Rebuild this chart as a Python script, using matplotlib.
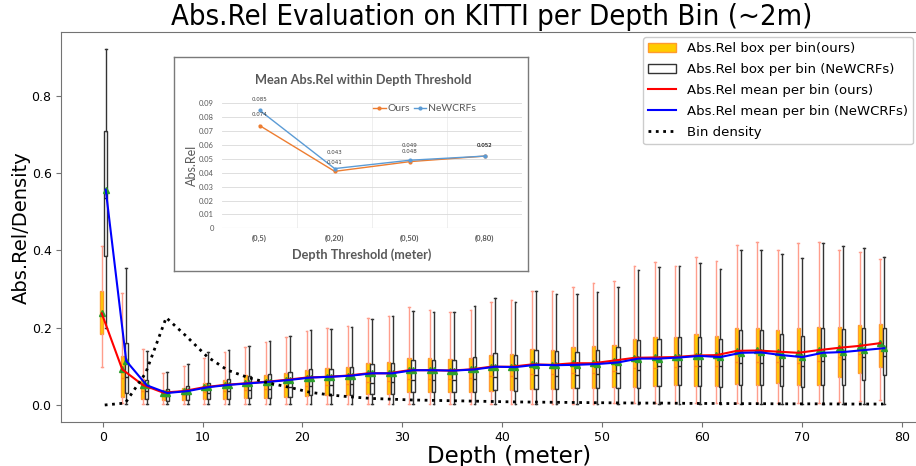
import numpy as np
import matplotlib.pyplot as plt
from matplotlib.patches import Patch
from matplotlib.lines import Line2D
from matplotlib import font_manager

# depth bins: 39 bins of ~2m over [0, 80]
bin_start = np.linspace(0, 80, 40)[:-1]

# per-bin Abs.Rel box statistics (ours)
ours_q1 = [0.183, 0.020, 0.015, 0.013, 0.013, 0.015, 0.016, 0.017, 0.019, 0.021,
           0.024, 0.026, 0.026, 0.028, 0.029, 0.033, 0.034, 0.034, 0.034, 0.037,
           0.039, 0.041, 0.042, 0.043, 0.043, 0.047, 0.047, 0.050, 0.053, 0.050,
           0.050, 0.054, 0.053, 0.056, 0.052, 0.052, 0.073, 0.084, 0.097]
ours_med = [0.235, 0.070, 0.035, 0.024, 0.027, 0.033, 0.036, 0.040, 0.042, 0.047,
            0.050, 0.053, 0.055, 0.060, 0.061, 0.068, 0.068, 0.068, 0.070, 0.075,
            0.075, 0.080, 0.080, 0.082, 0.083, 0.088, 0.095, 0.096, 0.098, 0.100,
            0.100, 0.112, 0.112, 0.110, 0.108, 0.115, 0.125, 0.133, 0.140]
ours_q3 = [0.295, 0.128, 0.066, 0.040, 0.045, 0.056, 0.065, 0.077, 0.078, 0.084,
           0.090, 0.095, 0.099, 0.108, 0.110, 0.121, 0.121, 0.119, 0.121, 0.129,
           0.132, 0.144, 0.142, 0.149, 0.153, 0.155, 0.172, 0.177, 0.177, 0.183,
           0.179, 0.198, 0.200, 0.194, 0.198, 0.203, 0.203, 0.207, 0.209]
ours_lo = [0.098, 0.004, 0.002, 0.002, 0.002, 0.002, 0.002, 0.002, 0.002, 0.002,
           0.003, 0.003, 0.003, 0.003, 0.003, 0.003, 0.003, 0.003, 0.003, 0.003,
           0.003, 0.003, 0.003, 0.003, 0.003, 0.004, 0.004, 0.004, 0.004, 0.004,
           0.004, 0.004, 0.004, 0.004, 0.004, 0.004, 0.008, 0.010, 0.012]
ours_hi = [0.410, 0.290, 0.144, 0.082, 0.100, 0.121, 0.136, 0.149, 0.163, 0.175,
           0.191, 0.198, 0.204, 0.224, 0.230, 0.253, 0.247, 0.240, 0.245, 0.266,
           0.272, 0.296, 0.295, 0.305, 0.315, 0.321, 0.360, 0.369, 0.360, 0.382,
           0.373, 0.415, 0.422, 0.401, 0.418, 0.421, 0.401, 0.395, 0.377]
ours_mean = [0.237, 0.092, 0.052, 0.032, 0.036, 0.046, 0.052, 0.056, 0.060, 0.065,
             0.071, 0.073, 0.076, 0.082, 0.082, 0.090, 0.090, 0.089, 0.092, 0.099,
             0.099, 0.105, 0.104, 0.108, 0.108, 0.115, 0.122, 0.123, 0.124, 0.128,
             0.129, 0.140, 0.141, 0.138, 0.135, 0.142, 0.148, 0.153, 0.160]

# per-bin Abs.Rel box statistics (NeWCRFs)
newc_q1 = [0.386, 0.030, 0.016, 0.011, 0.013, 0.015, 0.015, 0.017, 0.019, 0.021,
           0.025, 0.026, 0.027, 0.028, 0.029, 0.033, 0.034, 0.034, 0.034, 0.039,
           0.037, 0.041, 0.041, 0.043, 0.043, 0.043, 0.045, 0.049, 0.052, 0.050,
           0.047, 0.053, 0.053, 0.048, 0.047, 0.052, 0.053, 0.065, 0.078]
newc_med = [0.535, 0.073, 0.036, 0.022, 0.028, 0.032, 0.035, 0.038, 0.042, 0.046,
            0.050, 0.052, 0.054, 0.058, 0.060, 0.064, 0.064, 0.065, 0.068, 0.072,
            0.070, 0.077, 0.076, 0.078, 0.079, 0.083, 0.090, 0.102, 0.100, 0.100,
            0.100, 0.109, 0.109, 0.100, 0.100, 0.114, 0.118, 0.123, 0.127]
newc_q3 = [0.710, 0.160, 0.065, 0.041, 0.050, 0.058, 0.066, 0.075, 0.080, 0.085,
           0.092, 0.093, 0.097, 0.107, 0.109, 0.116, 0.116, 0.116, 0.125, 0.134,
           0.129, 0.142, 0.140, 0.138, 0.142, 0.149, 0.168, 0.172, 0.175, 0.177,
           0.170, 0.194, 0.194, 0.184, 0.179, 0.198, 0.196, 0.198, 0.198]
newc_lo = [0.200, 0.003, 0.002, 0.002, 0.002, 0.002, 0.002, 0.002, 0.002, 0.002,
           0.002, 0.002, 0.002, 0.002, 0.002, 0.002, 0.002, 0.002, 0.002, 0.002,
           0.002, 0.002, 0.002, 0.002, 0.002, 0.002, 0.002, 0.002, 0.002, 0.002,
           0.002, 0.002, 0.002, 0.002, 0.002, 0.002, 0.002, 0.002, 0.002]
newc_hi = [0.920, 0.355, 0.140, 0.085, 0.105, 0.138, 0.142, 0.153, 0.166, 0.178,
           0.194, 0.196, 0.202, 0.222, 0.229, 0.243, 0.240, 0.240, 0.256, 0.276,
           0.266, 0.294, 0.286, 0.286, 0.291, 0.306, 0.349, 0.358, 0.360, 0.368,
           0.351, 0.401, 0.401, 0.390, 0.381, 0.418, 0.410, 0.405, 0.382]
newc_mean = [0.557, 0.114, 0.051, 0.031, 0.036, 0.046, 0.052, 0.056, 0.060, 0.065,
             0.071, 0.073, 0.076, 0.082, 0.082, 0.090, 0.090, 0.089, 0.092, 0.099,
             0.098, 0.104, 0.103, 0.104, 0.106, 0.110, 0.120, 0.120, 0.123, 0.127,
             0.124, 0.135, 0.136, 0.129, 0.124, 0.135, 0.137, 0.142, 0.147]

# fraction of pixels in each bin
density = [0.000, 0.005, 0.083, 0.226, 0.177, 0.125, 0.090, 0.071, 0.057, 0.046,
           0.033, 0.026, 0.021, 0.017, 0.015, 0.013, 0.012, 0.011, 0.010, 0.009,
           0.008, 0.0075, 0.007, 0.0065, 0.006, 0.0055, 0.005, 0.005, 0.0045, 0.004,
           0.004, 0.0035, 0.0035, 0.003, 0.003, 0.003, 0.0025, 0.0025, 0.0025]

# mean Abs.Rel within depth threshold (inset)
thresholds = ["(0,5)", "(0,20)", "(0,50)", "(0,80)"]
thr_ours = [0.074, 0.041, 0.048, 0.052]
thr_newc = [0.085, 0.043, 0.049, 0.052]


def box_stats(q1, med, q3, lo, hi, mean):
    return [dict(q1=a, med=b, q3=c, whislo=d, whishi=e, mean=f, fliers=[])
            for a, b, c, d, e, f in zip(q1, med, q3, lo, hi, mean)]


W, H = 916, 466
fig = plt.figure(figsize=(W / 100, H / 100), dpi=100)


def fbox(x0, y0, x1, y1):
    # pixel box (top-left origin) -> figure fraction rect
    return [x0 / W, 1 - y1 / H, (x1 - x0) / W, (y1 - y0) / H]


ax = fig.add_axes(fbox(61.3, 31.7, 918, 421.7))

pos_ours = bin_start - 0.1
pos_newc = bin_start + 0.3

ax.bxp(box_stats(ours_q1, ours_med, ours_q3, ours_lo, ours_hi, ours_mean),
       positions=pos_ours, widths=0.33, patch_artist=True, showmeans=True,
       showfliers=False, manage_ticks=False,
       boxprops=dict(facecolor="#ffcc00", edgecolor="#ff9a2e", linewidth=1),
       whiskerprops=dict(color="#ff9e8c", linewidth=1),
       capprops=dict(color="#ff9e8c", linewidth=1),
       medianprops=dict(color="#ff8c1a", linewidth=1),
       meanprops=dict(marker="^", markerfacecolor="#2ca02c",
                      markeredgecolor="#2ca02c", markersize=5))

ax.bxp(box_stats(newc_q1, newc_med, newc_q3, newc_lo, newc_hi, newc_mean),
       positions=pos_newc, widths=0.33, patch_artist=True, showmeans=True,
       showfliers=False, manage_ticks=False,
       boxprops=dict(facecolor="white", edgecolor="#333333", linewidth=1),
       whiskerprops=dict(color="#333333", linewidth=1),
       capprops=dict(color="#333333", linewidth=1),
       medianprops=dict(color="#222222", linewidth=1),
       meanprops=dict(marker="^", markerfacecolor="#2ca02c",
                      markeredgecolor="#2ca02c", markersize=5))

ax.plot(pos_ours, ours_mean, color="red", linewidth=1.5, zorder=3)
ax.plot(pos_newc, newc_mean, color="blue", linewidth=1.5, zorder=3)
ax.plot(bin_start + 0.2, density, color="black", linestyle=":", linewidth=2, zorder=3)

ax.set_xlim(-4.15, 81.63)
ax.set_ylim(-0.0432, 0.9656)
ax.set_xticks(np.arange(0, 81, 10))
ax.set_yticks([0.0, 0.2, 0.4, 0.6, 0.8])
ax.tick_params(labelsize=9, color="0.45")
for s in ax.spines.values():
    s.set_color("0.45")

# narrow face for the title if one is installed
names = {f.name for f in font_manager.fontManager.ttflist}
if "DejaVu Sans Condensed" in names:
    title_font = dict(family="DejaVu Sans Condensed", fontsize=23.5)
elif "Liberation Sans Narrow" in names:
    title_font = dict(family="Liberation Sans Narrow", fontsize=25)
else:
    title_font = dict(family="DejaVu Sans", fontstretch="condensed", fontsize=21)
fig.text(491.5 / W, 1 - 17 / H, "Abs.Rel Evaluation on KITTI per Depth Bin (~2m)",
         ha="center", va="center", **title_font)
fig.text(509 / W, 1 - 456 / H, "Depth (meter)", fontsize=16.5, ha="center", va="center")
fig.text(21 / W, 1 - 228 / H, "Abs.Rel/Density", fontsize=14, rotation=90,
         ha="center", va="center")

handles = [Patch(facecolor="#ffcc00", edgecolor="#ff9a2e"),
           Patch(facecolor="white", edgecolor="#333333"),
           Line2D([], [], color="red"),
           Line2D([], [], color="blue"),
           Line2D([], [], color="black", linestyle=":", linewidth=2)]
labels = ["Abs.Rel box per bin(ours)", "Abs.Rel box per bin (NeWCRFs)",
          "Abs.Rel mean per bin (ours)", "Abs.Rel mean per bin (NeWCRFs)", "Bin density"]
ax.legend(handles, labels, loc="upper left", fontsize=9.5, labelspacing=0.6,
          handlelength=2.1, bbox_to_anchor=(643 / W, 1 - 37 / H),
          bbox_transform=fig.transFigure, borderaxespad=0, framealpha=1)

# inset: mean Abs.Rel within depth threshold
panel = fig.add_axes(fbox(174, 57, 528, 271))
panel.set_xticks([])
panel.set_yticks([])
for s in panel.spines.values():
    s.set_color("#7a7a7a")
    s.set_linewidth(1)
panel.set_facecolor("white")

grey = "#595959"
inset_font = ["Lato", "DejaVu Sans"]
ins = fig.add_axes(fbox(222, 103.3, 522.5, 228.3))
xs = np.arange(len(thresholds))
ins.set_xlim(-0.5, len(thresholds) - 0.5)
ins.set_ylim(0, 0.09)
ins.set_yticks(np.arange(0, 0.091, 0.01))
ins.set_yticklabels(["0"] + ["%.2f" % v for v in np.arange(0.01, 0.091, 0.01)],
                    fontsize=5.5, color=grey, family=inset_font)
ins.set_xticks(xs)
ins.set_xticklabels(thresholds, fontsize=5.5, color=grey, family=inset_font,
                    fontweight="bold")
ins.tick_params(axis="y", length=0, pad=6)
ins.tick_params(axis="x", length=0, pad=5)
ins.grid(axis="y", color="#d9d9d9", linewidth=0.6)
for b in xs[:-1] + 0.5:
    ins.axvline(b, color="#ececec", linewidth=0.6, zorder=0)
for s in ins.spines.values():
    s.set_visible(False)
ins.axhline(0, color="#d0d0d0", linewidth=0.8)
ins.set_axisbelow(True)
ins.set_facecolor("none")

ins.plot(xs, thr_ours, color="#ed7d31", marker="o", markersize=2, linewidth=1,
         label="Ours", clip_on=False)
ins.plot(xs, thr_newc, color="#5b9bd5", marker="o", markersize=2, linewidth=1,
         label="NeWCRFs", clip_on=False)

ours_dy = [6, 4.5, 5.5, 6]
newc_dy = [6, 10, 9, 6]
for x, v, dy in zip(xs, thr_ours, ours_dy):
    ins.annotate("%.3f" % v, (x, v), xytext=(0, dy), textcoords="offset points",
                 ha="center", va="bottom", fontsize=4, color="#404040")
for x, v, dy in zip(xs, thr_newc, newc_dy):
    ins.annotate("%.3f" % v, (x, v), xytext=(0, dy), textcoords="offset points",
                 ha="center", va="bottom", fontsize=4, color="#404040")

ins.legend(loc="upper right", bbox_to_anchor=(480 / W, 1 - 100 / H),
           bbox_transform=fig.transFigure, ncol=2, frameon=False,
           prop=dict(family=inset_font, size=7.5), labelcolor=grey,
           handlelength=1.2, handletextpad=0.15, columnspacing=0.4, borderaxespad=0)

fig.text(363 / W, 1 - 80 / H, "Mean Abs.Rel within Depth Threshold", fontsize=9.2,
         fontweight="bold", color=grey, family=inset_font, ha="center", va="center")
fig.text(361.7 / W, 1 - 255 / H, "Depth Threshold (meter)", fontsize=9.2,
         fontweight="bold", color=grey, family=inset_font, ha="center", va="center")
fig.text(191.7 / W, 1 - 165 / H, "Abs.Rel", fontsize=9, rotation=90, color=grey,
         family=inset_font, ha="center", va="center")

fig.savefig("out.png", dpi=100)
